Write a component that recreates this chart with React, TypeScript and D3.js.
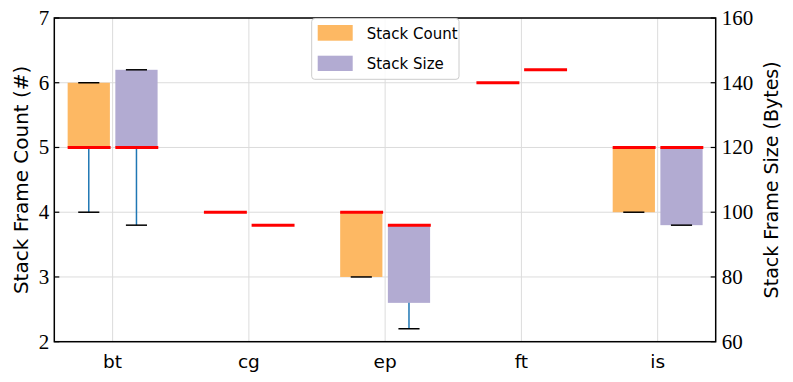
import React from "react";
import * as d3 from "d3";

const categories = ["bt", "cg", "ep", "ft", "is"];
// Stack Frame Count (#) — left axis
const countLo = [4, 4, 3, 6, 4];
const countQ1 = [5, 4, 3, 6, 4];
const countMed = [5, 4, 4, 6, 5];
const countQ3 = [6, 4, 4, 6, 5];
const countHi = [6, 4, 4, 6, 5];
// Stack Frame Size (Bytes) — right axis
const sizeLo = [96, 96, 64, 144, 96];
const sizeQ1 = [120, 96, 72, 144, 96];
const sizeMed = [120, 96, 96, 144, 120];
const sizeQ3 = [144, 96, 96, 144, 120];
const sizeHi = [144, 96, 96, 144, 120];

const leftTicks = [2, 3, 4, 5, 6, 7];
const rightTicks = [60, 80, 100, 120, 140, 160];

const W = 793;
const H = 382;
const L = 54.3, R = 715.7, T = 18, B = 341.7;

export default function App() {
  const x = d3.scaleLinear().domain([0.572, 5.426]).range([L, R]);
  const yL = d3.scaleLinear().domain([2, 7]).range([B, T]);
  const yR = d3.scaleLinear().domain([60, 160]).range([B, T]);
  const off = 0.175;
  const bw = 0.31;
  const serif = "'Liberation Serif', 'DejaVu Serif', serif";
  const sans = "'DejaVu Sans', sans-serif";

  const series = [
    { y: yL, lo: countLo, q1: countQ1, med: countMed, q3: countQ3, hi: countHi, dx: -off, fill: "#fdb863" },
    { y: yR, lo: sizeLo, q1: sizeQ1, med: sizeMed, q3: sizeQ3, hi: sizeHi, dx: off, fill: "#b2abd2" },
  ];

  return (
    <svg width={W} height={H} style={{ position: "absolute", left: 0, top: 0, background: "#fff" }}>
      {/* grid */}
      {leftTicks.map((t) => (
        <line key={"gh" + t} x1={L} x2={R} y1={yL(t)} y2={yL(t)} stroke="#dcdcdc" strokeWidth={1} />
      ))}
      {categories.map((c, i) => (
        <line key={"gv" + c} x1={x(i + 1)} x2={x(i + 1)} y1={T} y2={B} stroke="#dcdcdc" strokeWidth={1} />
      ))}
      {/* boxes */}
      {series.map((s, si) =>
        categories.map((c, i) => {
          const cx = x(i + 1 + s.dx);
          const x0 = x(i + 1 + s.dx - bw / 2);
          const x1 = x(i + 1 + s.dx + bw / 2);
          const c0 = x(i + 1 + s.dx - bw / 4);
          const c1 = x(i + 1 + s.dx + bw / 4);
          return (
            <g key={si + c}>
              <rect x={x0} width={x1 - x0} y={s.y(s.q3[i])} height={s.y(s.q1[i]) - s.y(s.q3[i])} fill={s.fill} />
              <line x1={cx} x2={cx} y1={s.y(s.q1[i])} y2={s.y(s.lo[i])} stroke="#1f77b4" strokeWidth={1.5} />
              <line x1={cx} x2={cx} y1={s.y(s.q3[i])} y2={s.y(s.hi[i])} stroke="#1f77b4" strokeWidth={1.5} />
              <line x1={c0} x2={c1} y1={s.y(s.lo[i])} y2={s.y(s.lo[i])} stroke="#000" strokeWidth={1.5} />
              <line x1={c0} x2={c1} y1={s.y(s.hi[i])} y2={s.y(s.hi[i])} stroke="#000" strokeWidth={1.5} />
              <line x1={x0} x2={x1 + 0.7} y1={s.y(s.med[i])} y2={s.y(s.med[i])} stroke="#ff0000" strokeWidth={3} />
            </g>
          );
        })
      )}
      {/* spines */}
      <rect x={L} y={T} width={R - L} height={B - T} fill="none" stroke="#000" strokeWidth={1.5} />
      {/* left ticks */}
      {leftTicks.map((t) => (
        <g key={"lt" + t}>
          <line x1={L} x2={L + 5} y1={yL(t)} y2={yL(t)} stroke="#000" strokeWidth={1.2} />
          <text x={L - 5} y={yL(t)} dy="0.33em" textAnchor="end" fontFamily={serif} fontSize={21}>{t}</text>
        </g>
      ))}
      {rightTicks.map((t) => (
        <g key={"rt" + t}>
          <line x1={R - 5} x2={R} y1={yR(t)} y2={yR(t)} stroke="#000" strokeWidth={1.2} />
          <text x={R + 6} y={yR(t)} dy="0.33em" textAnchor="start" fontFamily={serif} fontSize={21}>{t}</text>
        </g>
      ))}
      {categories.map((c, i) => (
        <text key={"xt" + c} x={x(i + 1)} y={368} textAnchor="middle" fontFamily={sans} fontSize={18.5}>{c}</text>
      ))}
      {/* axis labels */}
      <text transform={`translate(28,${(T + B) / 2}) rotate(-90)`} textAnchor="middle" fontFamily={sans} fontSize={20}>
        Stack Frame Count (#)
      </text>
      <text transform={`translate(778,${(T + B) / 2}) rotate(-90)`} textAnchor="middle" fontFamily={sans} fontSize={19}>
        Stack Frame Size (Bytes)
      </text>
      {/* legend */}
      <rect x={311.7} y={18.5} width={147.3} height={60.8} rx={3} fill="#fff" fillOpacity={0.85} stroke="#cccccc" strokeWidth={1} />
      <rect x={317.7} y={25} width={35} height={15.7} fill="#fdb863" />
      <rect x={317.7} y={55.7} width={35} height={15.3} fill="#b2abd2" />
      <text x={366.7} y={39} fontFamily={sans} fontSize={15}>Stack Count</text>
      <text x={366.7} y={69.3} fontFamily={sans} fontSize={15}>Stack Size</text>
    </svg>
  );
}
